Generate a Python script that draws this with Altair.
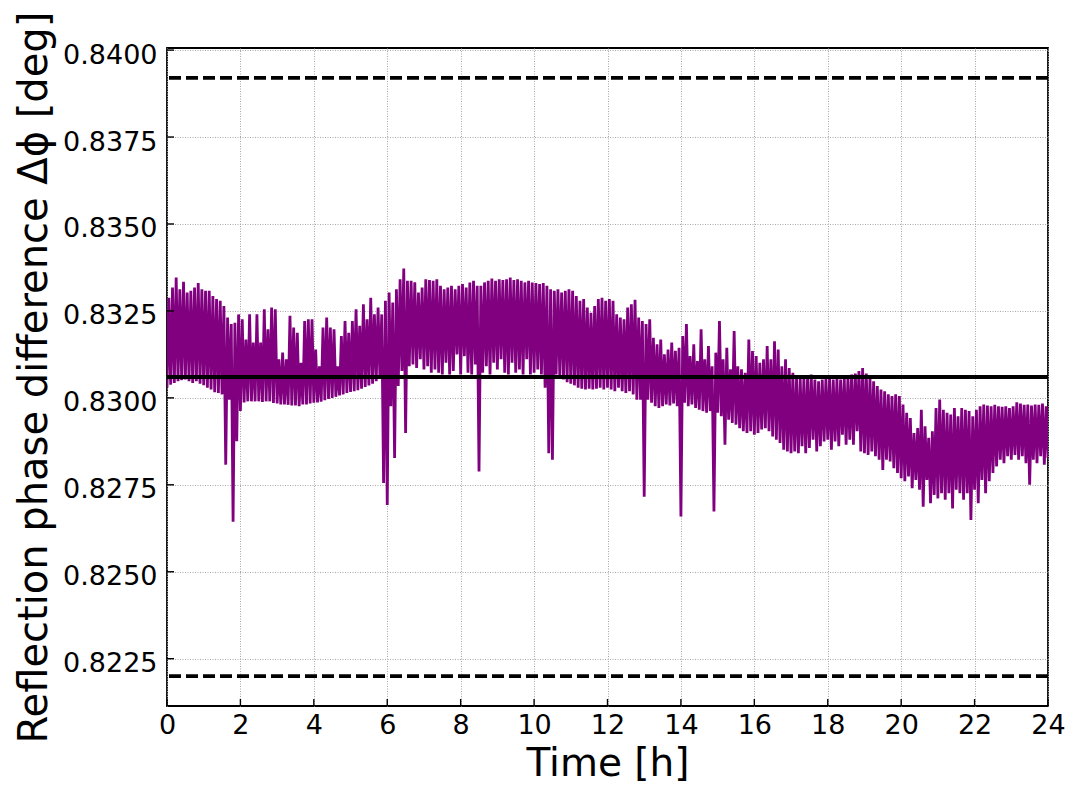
import altair as alt
import pandas as pd

# sampling instants (hours)
hours = [i / 10 for i in range(241)]

# upper extreme of the trace in each 0.1 h interval (deg)
upper = [
    0.83288, 0.83317, 0.83346, 0.83312, 0.83334, 0.83303, 0.83308, 0.83317, 0.83330, 0.83312,
    0.83308, 0.83308, 0.83293, 0.83284, 0.83279, 0.83264, 0.83231, 0.83212, 0.83216, 0.83240,
    0.83226, 0.83168, 0.83240, 0.83159, 0.83240, 0.83159, 0.83255, 0.83197, 0.83260, 0.83255,
    0.83111, 0.83130, 0.83111, 0.83236, 0.83202, 0.83187, 0.83101, 0.83221, 0.83226, 0.83226,
    0.83139, 0.83091, 0.83202, 0.83231, 0.83202, 0.83197, 0.83091, 0.83178, 0.83221, 0.83187,
    0.83221, 0.83255, 0.83207, 0.83269, 0.83226, 0.83288, 0.83240, 0.83260, 0.83240, 0.83279,
    0.83303, 0.83274, 0.83312, 0.83341, 0.83372, 0.83337, 0.83337, 0.83332, 0.83303, 0.83317,
    0.83341, 0.83339, 0.83337, 0.83341, 0.83322, 0.83312, 0.83317, 0.83322, 0.83312, 0.83322,
    0.83327, 0.83317, 0.83332, 0.83337, 0.83322, 0.83322, 0.83332, 0.83337, 0.83343, 0.83337,
    0.83341, 0.83339, 0.83341, 0.83346, 0.83339, 0.83341, 0.83337, 0.83332, 0.83337, 0.83332,
    0.83330, 0.83327, 0.83330, 0.83322, 0.83312, 0.83308, 0.83312, 0.83303, 0.83308, 0.83312,
    0.83308, 0.83293, 0.83279, 0.83284, 0.83260, 0.83245, 0.83264, 0.83284, 0.83288, 0.83279,
    0.83284, 0.83279, 0.83240, 0.83231, 0.83226, 0.83260, 0.83269, 0.83282, 0.83231, 0.83221,
    0.83212, 0.83226, 0.83173, 0.83154, 0.83168, 0.83125, 0.83139, 0.83159, 0.83135, 0.83144,
    0.83178, 0.83212, 0.83120, 0.83154, 0.83106, 0.83197, 0.83111, 0.83149, 0.83091, 0.83130,
    0.83221, 0.83111, 0.83144, 0.83082, 0.83192, 0.83091, 0.83082, 0.83072, 0.83168, 0.83135,
    0.83120, 0.83101, 0.83111, 0.83149, 0.83111, 0.83163, 0.83139, 0.83091, 0.83111, 0.83086,
    0.83072, 0.83058, 0.83055, 0.83058, 0.83062, 0.83067, 0.83053, 0.83048, 0.83053, 0.83055,
    0.83058, 0.83053, 0.83055, 0.83053, 0.83055, 0.83061, 0.83067, 0.83070, 0.83077, 0.83086,
    0.83070, 0.83058, 0.83048, 0.83034, 0.83024, 0.83019, 0.83010, 0.83005, 0.83010, 0.83005,
    0.82981, 0.82957, 0.82942, 0.82899, 0.82913, 0.82966, 0.82918, 0.82885, 0.82904, 0.82971,
    0.82995, 0.82966, 0.82957, 0.82952, 0.82971, 0.82947, 0.82971, 0.82966, 0.82962, 0.82947,
    0.82966, 0.82976, 0.82981, 0.82978, 0.82976, 0.82980, 0.82976, 0.82974, 0.82976, 0.82971,
    0.82976, 0.82987, 0.82984, 0.82980, 0.82981, 0.82978, 0.82981, 0.82980, 0.82984, 0.82976,
    0.82981,
]

# lower extreme of the trace in each 0.1 h interval (deg)
lower = [
    0.83029, 0.83038, 0.83043, 0.83048, 0.83051, 0.83053, 0.83048, 0.83043, 0.83048, 0.83041,
    0.83036, 0.83029, 0.83024, 0.83016, 0.83014, 0.83010, 0.82808, 0.82995, 0.82644, 0.82875,
    0.82962, 0.82987, 0.82990, 0.82990, 0.82990, 0.82990, 0.82988, 0.82990, 0.82990, 0.82985,
    0.82984, 0.82981, 0.82981, 0.82980, 0.82978, 0.82978, 0.82976, 0.82981, 0.82981, 0.82984,
    0.82986, 0.82987, 0.82989, 0.82993, 0.82997, 0.83000, 0.83003, 0.83007, 0.83010, 0.83014,
    0.83017, 0.83019, 0.83022, 0.83026, 0.83031, 0.83036, 0.83041, 0.83048, 0.83058, 0.82755,
    0.82692, 0.82976, 0.82827, 0.83034, 0.83077, 0.82899, 0.83091, 0.83096, 0.83086, 0.83111,
    0.83082, 0.83091, 0.83072, 0.83082, 0.83072, 0.83067, 0.83101, 0.83067, 0.83077, 0.83125,
    0.83067, 0.83120, 0.83072, 0.83067, 0.83096, 0.82788, 0.83072, 0.83091, 0.83067, 0.83101,
    0.83082, 0.83111, 0.83072, 0.83067, 0.83101, 0.83072, 0.83082, 0.83067, 0.83111, 0.83067,
    0.83072, 0.83082, 0.83067, 0.83029, 0.82841, 0.82822, 0.83067, 0.83062, 0.83053, 0.83045,
    0.83041, 0.83036, 0.83029, 0.83026, 0.83024, 0.83026, 0.83024, 0.83026, 0.83029, 0.83024,
    0.83029, 0.83024, 0.83019, 0.83029, 0.83019, 0.83014, 0.83019, 0.83010, 0.82995, 0.82995,
    0.82716, 0.82995, 0.82986, 0.82976, 0.82971, 0.82976, 0.82981, 0.82978, 0.82984, 0.82976,
    0.82659, 0.82986, 0.82976, 0.82981, 0.82971, 0.82966, 0.82962, 0.82957, 0.82962, 0.82673,
    0.82957, 0.82947, 0.82865, 0.82937, 0.82928, 0.82923, 0.82913, 0.82904, 0.82899, 0.82904,
    0.82894, 0.82899, 0.82909, 0.82913, 0.82904, 0.82889, 0.82880, 0.82870, 0.82851, 0.82846,
    0.82841, 0.82846, 0.82841, 0.82861, 0.82841, 0.82856, 0.82880, 0.82846, 0.82861, 0.82875,
    0.82880, 0.82851, 0.82875, 0.82861, 0.82894, 0.82865, 0.82880, 0.82865, 0.82904, 0.82846,
    0.82841, 0.82836, 0.82846, 0.82832, 0.82822, 0.82793, 0.82822, 0.82817, 0.82798, 0.82784,
    0.82769, 0.82760, 0.82774, 0.82740, 0.82764, 0.82736, 0.82687, 0.82764, 0.82697, 0.82721,
    0.82711, 0.82726, 0.82707, 0.82726, 0.82682, 0.82736, 0.82726, 0.82707, 0.82726, 0.82649,
    0.82736, 0.82697, 0.82764, 0.82726, 0.82760, 0.82784, 0.82803, 0.82822, 0.82812, 0.82832,
    0.82822, 0.82836, 0.82822, 0.82832, 0.82812, 0.82750, 0.82822, 0.82812, 0.82832, 0.82808,
    0.82827,
]

mean_level = [0.8306]
limit_levels = [0.8392, 0.8220]
y_ticks = [0.8225, 0.8250, 0.8275, 0.8300, 0.8325, 0.8350, 0.8375, 0.8400]
x_ticks = [0, 2, 4, 6, 8, 10, 12, 14, 16, 18, 20, 22, 24]

rows = []
for t, lo, hi in zip(hours, lower, upper):
    rows.append({"t": t, "v": lo})
    rows.append({"t": round(t + 0.05, 3), "v": hi})
series = pd.DataFrame(rows)

W, H = 881, 658
FONT = "DejaVu Sans"

x_enc = alt.X(
    "t:Q",
    scale=alt.Scale(domain=[0, 24], nice=False, zero=False),
    axis=alt.Axis(
        values=x_ticks, title="Time [h]", format="d",
        grid=True, gridDash=[1, 1.5], gridColor="#a8a8a8", gridWidth=1,
        ticks=False, domain=False, labelFlush=False,
        labelFontSize=27, labelPadding=6, labelColor="black", labelFont=FONT,
        titleFontSize=39, titleFont=FONT, titleFontWeight="normal", titleColor="black",
        titleX=W / 2, titleY=69, titleBaseline="alphabetic", titleAlign="center",
    ),
)
y_enc = alt.Y(
    "v:Q",
    scale=alt.Scale(domain=[0.82114, 0.84006], nice=False, zero=False),
    axis=alt.Axis(
        values=y_ticks, format=".4f", title="Reflection phase difference Δϕ [deg]",
        grid=True, gridDash=[1, 1.5], gridColor="#a8a8a8", gridWidth=1,
        ticks=False, domain=False, labelFlush=False,
        labelFontSize=27, labelPadding=10, labelColor="black", labelFont=FONT,
        labelBaseline="middle", labelOffset=5,
        titleFontSize=40, titleFont=FONT, titleFontWeight="normal", titleColor="black",
        titleAngle=270, titleX=-121, titleY=H / 2, titleBaseline="alphabetic", titleAlign="center",
    ),
)

trace = alt.Chart(series).mark_line(
    color="#800080", strokeWidth=2.8, clip=True, strokeJoin="miter", strokeMiterLimit=3
).encode(x=x_enc, y=y_enc)

mean_rule = alt.Chart(pd.DataFrame({"v": mean_level})).mark_rule(
    color="black", strokeWidth=3.8
).encode(y=y_enc)

limit_rules = alt.Chart(pd.DataFrame({"v": limit_levels})).mark_rule(
    color="black", strokeWidth=3.8, strokeDash=[12, 5]
).encode(y=y_enc)

y_tick_marks = alt.Chart(pd.DataFrame({"v": y_ticks})).mark_rule(
    color="black", strokeWidth=1.4
).encode(y=y_enc, x=alt.value(0), x2=alt.value(7))

x_tick_marks = alt.Chart(pd.DataFrame({"t": x_ticks})).mark_rule(
    color="black", strokeWidth=1.4
).encode(x=x_enc, y=alt.value(H), y2=alt.value(H - 7))

chart = (
    alt.layer(trace, mean_rule, limit_rules, y_tick_marks, x_tick_marks)
    .properties(
        width=W,
        height=H,
        padding={"left": 159, "top": 40, "right": 24, "bottom": 86},
        autosize=alt.AutoSizeParams(type="none"),
        background="white",
    )
    .configure(font=FONT)
    .configure_view(stroke="black", strokeWidth=1.8)
)

chart.save("out.html", embed_options={"renderer": "svg", "actions": False})
